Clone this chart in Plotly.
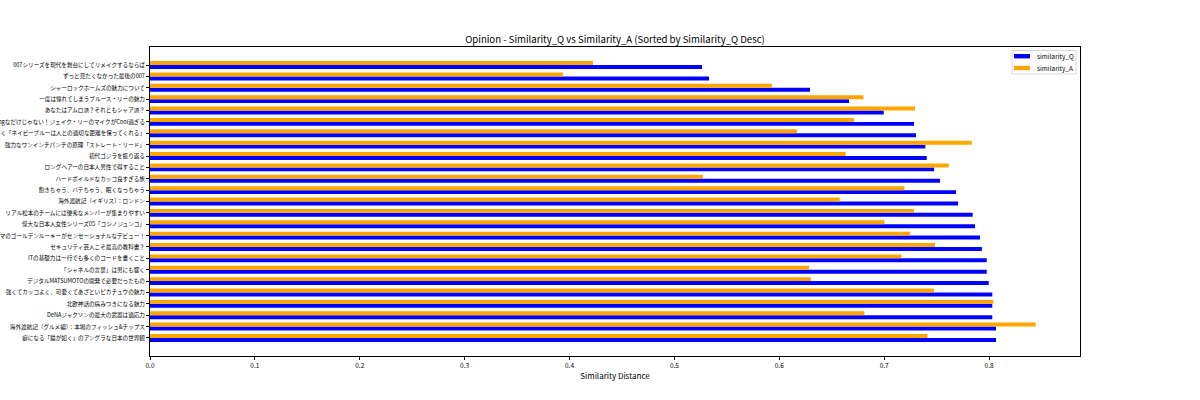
import plotly.graph_objects as go

titles = [
    "007シリーズを現代を舞台にしてリメイクするならば",
    "ずっと見たくなかった最後の007",
    "シャーロックホームズの魅力について",
    "一度は憧れてしまうブルース・リーの魅力",
    "あなたはアムロ派？それともシャア派？",
    "Amazingなだけじゃない！ジェイク・リーのマイクがCool過ぎる",
    "ネイビーブルーの魅力を紐解く「ネイビーブルーは人との適切な距離を保ってくれる」",
    "強力なワンインチパンチの原理「ストレート・リード」",
    "初代ゴジラを振り返る",
    "ロングヘアーの日本人男性で得すること",
    "ハードボイルドなカッコ良すぎる旅",
    "飽きちゃう、バテちゃう、眠くなっちゃう",
    "海外渡航記（イギリス）：ロンドン",
    "リアル松本のチームには優秀なメンバーが集まりやすい",
    "偉大な日本人女性シリーズ05「コシノジュンコ」",
    "プロレスドラマのゴールデンルーキーがセンセーショナルなデビュー！",
    "セキュリティ芸人こそ最高の教科書？",
    "ITの基礎力は一行でも多くのコードを書くこと",
    "「シャネルの言葉」は男にも響く",
    "デジタルMATSUMOTOの開発で必要だったもの",
    "強くてカッコよく、可愛くてあざといピカチュウの魅力",
    "北欧神話の病みつきになる魅力",
    "DeNAジャクソンの最大の武器は適応力",
    "海外渡航記（グルメ編）：本場のフィッシュ&チップス",
    "癖になる「猫が如く」のアングラな日本の世界観",
]

similarity_q = [0.5263, 0.5330, 0.6293, 0.6665, 0.6996, 0.7285, 0.7304, 0.7393,
                0.7406, 0.7476, 0.7533, 0.7685, 0.7705, 0.7844, 0.7866, 0.7914,
                0.7932, 0.7978, 0.7978, 0.7997, 0.8031, 0.8031, 0.8031, 0.8067,
                0.8067]
similarity_a = [0.4224, 0.3938, 0.5931, 0.6802, 0.7294, 0.6710, 0.6169, 0.7835,
                0.6633, 0.7616, 0.5270, 0.7193, 0.6576, 0.7285, 0.7002, 0.7247,
                0.7485, 0.7164, 0.6284, 0.6302, 0.7475, 0.8041, 0.6811, 0.8445,
                0.7412]

xticks = [0.0, 0.1, 0.2, 0.3, 0.4, 0.5, 0.6, 0.7, 0.8]
series_names = ["similarity_Q", "similarity_A"]
series_colors = ["#0000FF", "#FFA500"]

FONT = "Noto Sans CJK JP"
W, H = 1200, 400
ML, MR, MT, MB = 150, 120, 47, 44
PW, PH = W - ML - MR, H - MT - MB

fig = go.Figure()
for name, vals, col in zip(series_names, [similarity_q, similarity_a], series_colors):
    fig.add_trace(go.Bar(y=titles, x=vals, orientation="h", name=name,
                         marker=dict(color=col, line=dict(width=0)),
                         showlegend=False))

n = len(titles)
xmax = max(max(similarity_q), max(similarity_a)) * 1.05


def px_x(px):
    return (px - ML) / PW


def px_y(py):
    return 1 - (py - MT) / PH


# compact matplotlib-style legend
shapes = [dict(type="rect", xref="paper", yref="paper",
               x0=px_x(1012), x1=px_x(1076), y0=px_y(74), y1=px_y(50.5),
               line=dict(color="#cccccc", width=0.8), fillcolor="rgba(255,255,255,0.8)")]
annotations = []
for i, (name, col) in enumerate(zip(series_names, series_colors)):
    cy = 56.2 + i * 11.8
    shapes.append(dict(type="rect", xref="paper", yref="paper",
                       x0=px_x(1014), x1=px_x(1030), y0=px_y(cy + 2.2), y1=px_y(cy - 2.2),
                       line=dict(width=0), fillcolor=col))
    annotations.append(dict(text=name, xref="paper", yref="paper", x=px_x(1035),
                            y=px_y(cy), xanchor="left", yanchor="middle", showarrow=False,
                            font=dict(size=6.5, family=FONT, color="black")))

fig.update_layout(
    width=W, height=H,
    barmode="group", bargap=0.3, bargroupgap=0,
    plot_bgcolor="white", paper_bgcolor="white",
    margin=dict(l=ML, r=MR, t=MT, b=MB),
    font=dict(family=FONT, size=7, color="black"),
    title=dict(text="Opinion - Similarity_Q vs Similarity_A (Sorted by Similarity_Q Desc)",
               x=(ML + PW / 2) / W, xanchor="center", y=1 - 40 / H, yanchor="middle",
               font=dict(family=FONT, size=9.6, color="black")),
    xaxis=dict(range=[0, xmax], tickvals=xticks, ticktext=[f"{v:.1f}" for v in xticks],
               showgrid=False, zeroline=False, showline=True, linecolor="black",
               linewidth=0.8, mirror=True, ticks="outside", ticklen=3, tickwidth=0.8,
               tickcolor="black", tickfont=dict(size=6.5),
               title=dict(text="Similarity Distance", font=dict(size=8), standoff=4)),
    yaxis=dict(categoryorder="array", categoryarray=titles[::-1],
               range=[-1.585, n - 1 + 1.585], automargin=False,
               showgrid=False, zeroline=False, showline=True, linecolor="black",
               linewidth=0.8, mirror=True, ticks="outside", ticklen=3, tickwidth=0.8,
               tickcolor="black", tickfont=dict(size=5.6)),
    shapes=shapes,
    annotations=annotations,
    showlegend=False,
)

fig.write_html("out.html", config={"displayModeBar": False},
               post_script="document.body.style.margin='0';document.body.style.padding='0';")
